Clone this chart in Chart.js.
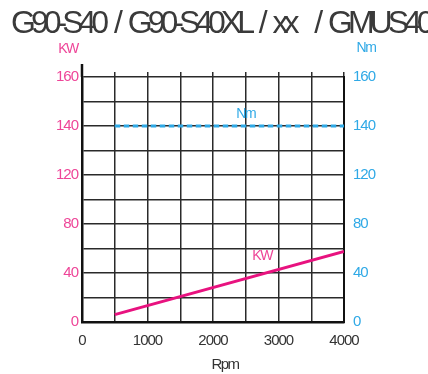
<!DOCTYPE html>
<html>
<head>
<meta charset="utf-8">
<script src="https://cdn.jsdelivr.net/npm/chart.js@4.4.1/dist/chart.umd.min.js"></script>
<style>
  html, body { margin: 0; padding: 0; background: #fff; }
  #wrap { position: relative; width: 428px; height: 374px; overflow: hidden; }
  #title {
    position: absolute; top: 6px; left: 11px;
    font: 32px/32px "Liberation Sans", Arial, sans-serif;
    letter-spacing: -5px; word-spacing: 6px; color: #3a3a3a; white-space: nowrap;
  }
</style>
</head>
<body>
<div id="wrap">
  <div id="title">G90-S40 / G90-S40XL / xx&nbsp; / GMUS40</div>
  <canvas id="chart" width="428" height="374"></canvas>
</div>
<script>
"use strict";

// ── data ──
const rpm = [500, 4000];
const kw = [6, 57.5];
const nm = [140, 140];
const yTickLabels = [0, 40, 80, 120, 140, 160];   // evenly spaced on the printed axis
const xTickLabels = [0, 1000, 2000, 3000, 4000];

const C = {
  pink: "#e8127f",
  pinkText: "#ee4598",
  blue: "#2fa9e6",
  grid: "#2a2a2a",
  axis: "#111",
  text: "#333"
};
const FONT = "'Liberation Sans', Arial, sans-serif";
const STEP = 40; // axis units between printed labels

// printed axis is not linear: map a value onto label slots
function toAxis(v) {
  for (let i = 1; i < yTickLabels.length; i++) {
    const a = yTickLabels[i - 1], b = yTickLabels[i];
    if (v <= b) return (i - 1 + (v - a) / (b - a)) * STEP;
  }
  return (yTickLabels.length - 1) * STEP;
}

function yLabel(value) {
  if (value % STEP !== 0) return "";
  return String(yTickLabels[value / STEP]);
}

const yMax = (yTickLabels.length - 1) * STEP;

const labelsPlugin = {
  id: "labels",
  beforeDraw(chart) {
    chart.ctx.letterSpacing = "-1px";
  },
  afterDraw(chart) {
    const { ctx, chartArea: a, scales } = chart;
    ctx.save();
    // left axis runs a little above the plot
    ctx.strokeStyle = C.axis;
    ctx.lineWidth = 2.5;
    ctx.beginPath();
    ctx.moveTo(a.left, a.top - 13);
    ctx.lineTo(a.left, a.top);
    ctx.stroke();

    ctx.letterSpacing = "-1.5px";
    ctx.textAlign = "center";
    ctx.textBaseline = "middle";
    ctx.font = "14px " + FONT;
    ctx.fillStyle = C.pinkText;
    ctx.fillText("KW", a.left - 14, 49);
    ctx.fillStyle = C.blue;
    ctx.fillText("Nm", a.right + 22, 48);

    // in-plot series labels
    ctx.fillStyle = C.blue;
    ctx.fillText("Nm", scales.x.getPixelForValue(2500), scales.y2.getPixelForValue(toAxis(140)) - 12);
    ctx.fillStyle = C.pinkText;
    ctx.fillText("KW", scales.x.getPixelForValue(2750), scales.y.getPixelForValue(toAxis(54)));

    ctx.fillStyle = C.text;
    ctx.font = "15px " + FONT;
    ctx.fillText("Rpm", (a.left + a.right) / 2 + 12, 365);
    ctx.restore();
  }
};

new Chart(document.getElementById("chart"), {
  type: "line",
  data: {
    datasets: [
      {
        label: "KW",
        data: rpm.map((r, i) => ({ x: r, y: toAxis(kw[i]) })),
        borderColor: C.pink,
        borderWidth: 3,
        pointRadius: 0,
        yAxisID: "y"
      },
      {
        label: "Nm",
        data: rpm.map((r, i) => ({ x: r, y: toAxis(nm[i]) })),
        borderColor: C.blue,
        borderWidth: 3,
        borderDash: [5.5, 3.5],
        pointRadius: 0,
        yAxisID: "y2"
      }
    ]
  },
  options: {
    responsive: false,
    animation: false,
    layout: { padding: { top: 77, left: 0, right: 0, bottom: 0 } },
    plugins: { legend: { display: false }, tooltip: { enabled: false } },
    scales: {
      x: {
        type: "linear",
        position: "bottom",
        min: 0, max: 4000,
        ticks: {
          stepSize: 500,
          autoSkip: false,
          padding: 10,
          color: C.text,
          font: { family: FONT, size: 15 },
          maxRotation: 0,
          callback: v => xTickLabels.includes(v) ? String(v) : ""
        },
        grid: { color: C.grid, lineWidth: 1.5, drawTicks: false },
        border: { color: C.axis, width: 2.5 },
        afterFit: s => { s.height = 52; }
      },
      xTop: {
        type: "linear",
        position: "top",
        min: 0, max: 4000,
        ticks: { stepSize: 500, autoSkip: false, display: false },
        grid: { color: C.grid, lineWidth: 1.5, drawOnChartArea: false, tickLength: 5 },
        border: { display: false },
        afterFit: s => { s.height = 0; }
      },
      y: {
        type: "linear",
        position: "left",
        min: 0, max: yMax,
        ticks: {
          stepSize: STEP / 2,
          autoSkip: false,
          padding: 4,
          color: C.pinkText,
          font: { family: FONT, size: 15 },
          callback: yLabel
        },
        grid: { color: C.grid, lineWidth: 1.5, drawTicks: false },
        border: { color: C.axis, width: 2.5 },
        afterFit: s => { s.width = 82; }
      },
      y2: {
        type: "linear",
        position: "right",
        min: 0, max: yMax,
        ticks: {
          stepSize: STEP / 2,
          autoSkip: false,
          padding: 9,
          color: C.blue,
          font: { family: FONT, size: 15 },
          callback: yLabel
        },
        grid: { drawOnChartArea: false, drawTicks: false },
        border: { color: C.axis, width: 2 },
        afterFit: s => { s.width = 84; }
      }
    }
  },
  plugins: [labelsPlugin]
});
</script>
</body>
</html>
